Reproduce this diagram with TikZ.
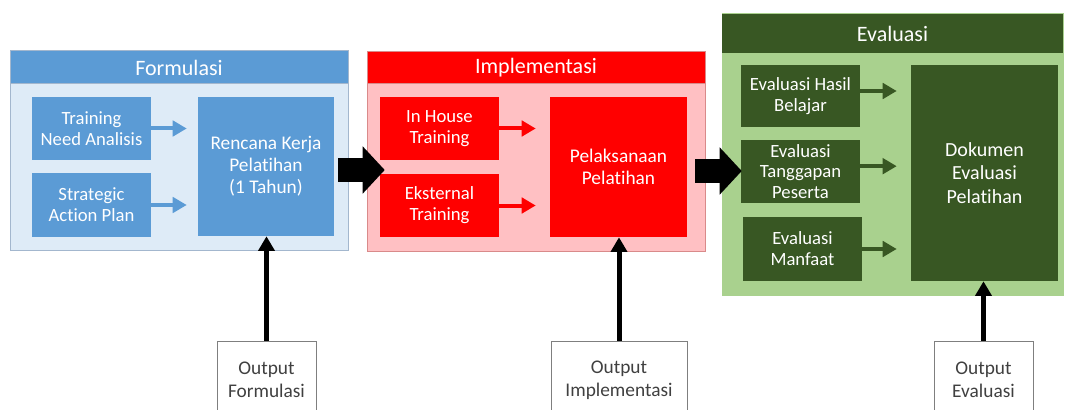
\documentclass[tikz,border=0pt]{standalone}
\usepackage{fontspec}
\setmainfont{Carlito}[Ligatures={NoCommon}]
\usetikzlibrary{arrows.meta,fit}

\definecolor{fblue}{HTML}{5B9BD5}
\definecolor{fbody}{HTML}{DEEBF7}
\definecolor{fline}{HTML}{A3B7CE}
\definecolor{ired}{HTML}{FF0000}
\definecolor{ibody}{HTML}{FFC0C3}
\definecolor{iline}{HTML}{D98A8A}
\definecolor{ggreen}{HTML}{385723}
\definecolor{gbody}{HTML}{A9D18E}
\definecolor{oline}{HTML}{7F7F7F}
\definecolor{otext}{HTML}{404040}

\begin{document}
\begin{tikzpicture}[x=0.75pt,y=-0.75pt,
  every node/.style={text=white, align=center},
  panel/.style={inner sep=0pt, line width=0.75pt},
  area/.style={inner sep=0pt},
  headtext/.style={inner sep=0pt, font=\fontsize{16.5}{18}\selectfont},
  smalltext/.style={inner sep=0pt, font=\fontsize{14}{15.75}\selectfont},
  bigtext/.style={inner sep=0pt, font=\fontsize{14.5}{16.5}\selectfont},
  outbox/.style={inner sep=0pt, draw=oline, fill=white, line width=0.75pt},
  outtext/.style={inner sep=0pt, text=otext, font=\fontsize{14.5}{17}\selectfont},
  sarrow/.style={line width=3pt, draw=#1, -{Triangle[length=10.5pt,width=11.5pt]}},
  bigarrow/.style={line width=18pt, draw=black, -{Triangle[length=16.5pt,width=34.5pt]}},
  uparrow/.style={line width=3.75pt, draw=black, -{Triangle[length=11pt,width=12pt]}}
]
\useasboundingbox (0,0) rectangle (1065,410);
\clip (0,0) rectangle (1065,410);

% ---- Formulasi ----
\node[panel, fit={(10,51) (348,250)}, fill=fbody, draw=fline] (formP) {};
\node[panel, fit={(10,51) (348,84)}, fill=fblue, draw=fline] (formH) {};
\node[headtext] (formHT) at (formH) {Formulasi};
\node[area, fit={(32,97) (151,160)}, fill=fblue] (tna) {};
\node[smalltext] (tnaT) at (tna) {Training\\Need Analisis};
\node[area, fit={(32,173) (151,237)}, fill=fblue] (sap) {};
\node[smalltext] (sapT) at (sap) {Strategic\\Action Plan};
\node[area, fit={(198,97) (334,236)}, fill=fblue] (renc) {};
\node[bigtext] (rencT) at (renc) {Rencana Kerja\\Pelatihan\\(1 Tahun)};

% ---- Implementasi ----
\node[panel, fit={(367,52) (705,251)}, fill=ibody, draw=iline] (implP) {};
\node[panel, fit={(367,52) (705,84)}, fill=ired, draw=iline] (implH) {};
\node[headtext] (implHT) at (implH) {Implementasi};
\node[area, fit={(380,97) (499,160)}, fill=ired] (inh) {};
\node[smalltext] (inhT) at (inh) {In House\\Training};
\node[area, fit={(380,174) (499,237)}, fill=ired] (ext) {};
\node[smalltext] (extT) at (ext) {Eksternal\\Training};
\node[area, fit={(550,97) (687,237)}, fill=ired] (pel) {};
\node[bigtext] (pelT) at (pel) {Pelaksanaan\\Pelatihan};

% ---- Evaluasi ----
\node[panel, fit={(722,14) (1063,295)}, fill=gbody, draw=gbody] (evalP) {};
\node[area, fit={(722,14) (1063,53)}, fill=ggreen] (evalH) {};
\node[headtext] (evalHT) at (evalH) {Evaluasi};
\node[area, fit={(741,65) (860,127)}, fill=ggreen] (ehb) {};
\node[smalltext] (ehbT) at (ehb) {Evaluasi Hasil\\Belajar};
\node[area, fit={(741,140) (860,203)}, fill=ggreen] (etp) {};
\node[smalltext, font=\fontsize{14}{15.5}\selectfont] (etpT) at (etp) {Evaluasi\\Tanggapan\\Peserta};
\node[area, fit={(743,217) (862,281)}, fill=ggreen] (em) {};
\node[smalltext] (emT) at (em) {Evaluasi\\Manfaat};
\node[area, fit={(911,65) (1058,281)}, fill=ggreen] (dok) {};
\node[bigtext, font=\fontsize{15}{17.5}\selectfont] (dokT) at (dok) {Dokumen\\Evaluasi\\Pelatihan};

% ---- outputs ----
\node[outbox, fit={(217,341) (316,418)}] (outf) {};
\node[outtext] (outfT) at (266.5,380) {Output\\Formulasi};
\node[outbox, fit={(551,341) (687,418)}] (outi) {};
\node[outtext] (outiT) at (619,380) {Output\\Implementasi};
\node[outbox, fit={(934,341) (1033,418)}] (oute) {};
\node[outtext] (outeT) at (983.5,380) {Output\\Evaluasi};

% ---- inner arrows ----
\draw[sarrow=fblue, shorten >=8.25pt] (tna.east) -- (tna.east -| renc.west);
\draw[sarrow=fblue, shorten >=8.25pt] (sap.east) -- (sap.east -| renc.west);
\draw[sarrow=ired, shorten >=10.5pt] (inh.east) -- (inh.east -| pel.west);
\draw[sarrow=ired, shorten >=10.5pt] (ext.east) -- (ext.east -| pel.west);
\draw[sarrow=ggreen, shorten >=10.5pt] ([yshift=3.75pt]ehb.east) -- ([yshift=3.75pt]ehb.east -| dok.west);
\draw[sarrow=ggreen, shorten >=10.5pt] ([yshift=4pt]etp.east) -- ([yshift=4pt]etp.east -| dok.west);
\draw[sarrow=ggreen, shorten >=10.5pt] (em.east) -- (em.east -| dok.west);

% ---- stage arrows ----
\coordinate (tip1) at ([xshift=3.75pt]inh.west |- 0,170);
\coordinate (tip2) at ([xshift=0.75pt]etp.west |- 0,171);
\draw[bigarrow] ([xshift=3pt]renc.east |- tip1) -- (tip1);
\draw[bigarrow] ([xshift=6pt]pel.east |- tip2) -- (tip2);

% ---- output arrows ----
\draw[uparrow] (outf.north) -- (outf.north |- renc.south);
\draw[uparrow] (outi.north) -- (outi.north |- pel.south);
\draw[uparrow] (oute.north) -- (oute.north |- dok.south);
\end{tikzpicture}
\end{document}
